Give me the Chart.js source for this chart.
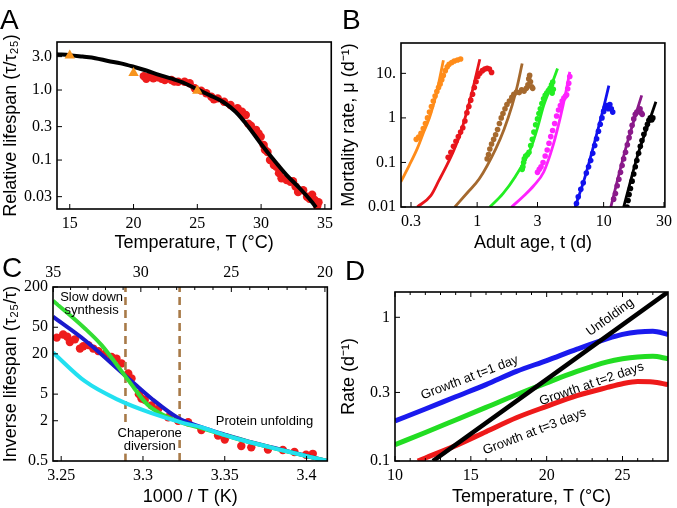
<!DOCTYPE html>
<html>
<head>
<meta charset="utf-8">
<script src="https://cdn.jsdelivr.net/npm/chart.js@4.4.1/dist/chart.umd.min.js"></script>
<style>
  body { margin: 0; background: #fff; width: 677px; height: 508px; position: relative; overflow: hidden; }
  .panel { position: absolute; }
  .tag { position: absolute; font: 28px/28px "Liberation Sans", Arial, sans-serif; color: #000; }
</style>
</head>
<body>
<div class="panel" style="left:0;top:0"><canvas id="chartA" width="338" height="254"></canvas></div>
<div class="panel" style="left:338px;top:0"><canvas id="chartB" width="339" height="254"></canvas></div>
<div class="panel" style="left:0;top:254px"><canvas id="chartC" width="338" height="254"></canvas></div>
<div class="panel" style="left:338px;top:254px"><canvas id="chartD" width="339" height="254"></canvas></div>
<div class="tag" style="left:0;top:6px">A</div>
<div class="tag" style="left:342px;top:6px">B</div>
<div class="tag" style="left:2px;top:254px">C</div>
<div class="tag" style="left:345px;top:257px">D</div>
<script>
// ---- Panel A: relative lifespan vs temperature
const aFitT = [14, 15, 16, 17, 18, 19, 20, 21, 22, 23, 24, 25, 26, 27, 28, 29, 30, 31, 32, 33, 34, 34.3];
const aFitV = [3.25, 3.15, 3.0, 2.85, 2.6, 2.4, 2.15, 1.9, 1.65, 1.45, 1.25, 1.02, 0.84, 0.68, 0.49, 0.3, 0.17, 0.1, 0.061, 0.04, 0.025, 0.021];
const aDotT = [20.8, 21.0, 21.2, 21.55, 21.9, 22.2, 22.45, 22.97, 23.2, 23.5, 24.0, 24.4, 24.8, 25.3, 25.7, 26.1, 26.3, 26.6, 27.1, 27.6, 28.15, 28.3, 28.5, 28.8, 29.0, 29.2, 29.6, 29.8, 29.97, 30.2, 30.3, 30.5, 30.7, 31.0, 31.2, 31.4, 31.6, 32.0, 32.3, 32.5, 32.7, 32.9, 33.3, 33.6, 33.8, 34.0, 34.2, 34.4, 34.5];
const aDotV = [1.58, 1.45, 1.55, 1.47, 1.52, 1.45, 1.39, 1.39, 1.32, 1.31, 1.31, 1.25, 1.06, 0.98, 0.9, 0.8, 0.74, 0.76, 0.68, 0.61, 0.55, 0.5, 0.49, 0.44, 0.33, 0.31, 0.27, 0.24, 0.215, 0.164, 0.14, 0.13, 0.1, 0.085, 0.08, 0.065, 0.055, 0.052, 0.049, 0.05, 0.042, 0.035, 0.037, 0.03, 0.028, 0.032, 0.027, 0.022, 0.025];
const aTriT = [15, 20, 25];
const aTriV = [3.1, 1.75, 0.98];
const aXTicks = [15, 20, 25, 30, 35];
const aYTicks = [0.03, 0.1, 0.3, 1, 3];
const aYLabels = ['0.03', '0.1', '0.3', '1.0', '3.0'];

// ---- Panel B: mortality rate vs adult age (fit curves and data)
const bFitOrange = [[0.249, 0.0365], [0.29, 0.085], [0.336, 0.204], [0.38, 0.5], [0.426, 1.14], [0.48, 3.9], [0.541, 19.7]];
const bDotOrange = [[0.33, 0.33], [0.345, 0.37], [0.36, 0.45], [0.375, 0.58], [0.39, 0.75], [0.405, 1.0], [0.42, 1.35], [0.435, 1.8], [0.45, 2.4], [0.465, 3.1], [0.48, 3.9], [0.495, 4.8], [0.51, 5.8], [0.525, 7.2], [0.54, 9], [0.56, 11.5], [0.58, 14], [0.6, 16], [0.63, 17.5], [0.66, 19], [0.7, 20], [0.74, 21]];
const bFitRed = [[0.336, 0.01], [0.43, 0.018], [0.5, 0.04], [0.575, 0.086], [0.65, 0.18], [0.73, 0.41], [0.83, 1.4], [0.926, 4.56], [1.05, 20.7]];
const bDotRed = [[0.59, 0.13], [0.62, 0.17], [0.65, 0.23], [0.68, 0.3], [0.71, 0.38], [0.74, 0.48], [0.77, 0.6], [0.8, 0.85], [0.83, 1.3], [0.86, 1.8], [0.89, 2.5], [0.92, 3.4], [0.95, 4.8], [0.98, 6.5], [1.01, 8.5], [1.05, 10], [1.1, 11.5], [1.15, 12.5], [1.2, 13], [1.25, 12.5], [1.3, 10.5]];
const bFitBrown = [[0.666, 0.01], [0.85, 0.022], [1.04, 0.043], [1.4, 0.2], [1.63, 0.55], [1.89, 1.92], [2.07, 5], [2.27, 16.6]];
const bDotBrown = [[1.2, 0.12], [1.23, 0.15], [1.26, 0.2], [1.3, 0.26], [1.35, 0.33], [1.4, 0.42], [1.45, 0.55], [1.5, 0.75], [1.55, 1.0], [1.6, 1.25], [1.66, 1.6], [1.72, 2.0], [1.8, 2.4], [1.88, 2.9], [1.95, 3.4], [2.05, 3.8], [2.15, 3.7], [2.25, 4.3], [2.35, 4.0], [2.45, 4.6], [2.52, 5.5], [2.56, 7.5], [2.6, 9], [2.64, 6.5], [2.7, 5], [2.75, 4.6]];
const bFitGreen = [[1.26, 0.01], [1.6, 0.02], [2.0, 0.048], [2.64, 0.2], [3.0, 0.6], [3.36, 1.92], [3.8, 4.8], [4.32, 12.8]];
const bDotGreen = [[2.27, 0.07], [2.3, 0.08], [2.33, 0.1], [2.36, 0.12], [2.42, 0.14], [2.5, 0.15], [2.57, 0.17], [2.65, 0.24], [2.73, 0.33], [2.81, 0.48], [2.9, 0.7], [3.0, 0.95], [3.08, 1.25], [3.16, 1.6], [3.25, 2.1], [3.35, 2.7], [3.45, 3.2], [3.55, 3.6], [3.66, 4.1], [3.77, 4.6], [3.87, 5.5], [3.96, 6.4], [3.92, 3.6], [4.0, 4.4]];
const bFitMagenta = [[1.87, 0.01], [2.3, 0.017], [2.8, 0.03], [3.36, 0.061], [4.0, 0.25], [4.52, 0.96], [5.0, 3.5], [5.4, 10.8]];
const bDotMagenta = [[3.0, 0.06], [3.1, 0.07], [3.2, 0.08], [3.32, 0.1], [3.45, 0.14], [3.58, 0.19], [3.7, 0.27], [3.82, 0.38], [3.95, 0.52], [4.1, 0.75], [4.25, 1.1], [4.4, 1.5], [4.55, 1.9], [4.7, 2.4], [4.85, 2.8], [5.0, 3.1], [5.1, 3.3], [5.2, 4.5], [5.3, 6], [5.4, 8.5]];
const bFitBlue = [[5.95, 0.01], [7.0, 0.04], [8.2, 0.2], [9.8, 1.36], [11.0, 5.3]];
const bDotBlue = [[6.1, 0.012], [6.3, 0.017], [6.6, 0.025], [6.9, 0.035], [7.3, 0.058], [7.6, 0.08], [7.9, 0.11], [8.2, 0.16], [8.5, 0.24], [8.8, 0.34], [9.1, 0.5], [9.4, 0.72], [9.7, 1.0], [10.0, 1.4], [10.3, 1.7], [10.6, 1.9], [10.9, 1.6], [11.2, 2.0], [11.5, 1.6], [11.8, 1.35]];
const bFitPurple = [[11.4, 0.01], [13, 0.045], [14.9, 0.2], [17.5, 0.95], [20, 3.2]];
const bDotPurple = [[12.0, 0.015], [12.4, 0.02], [12.8, 0.03], [13.2, 0.042], [13.6, 0.06], [14.0, 0.085], [14.4, 0.12], [14.9, 0.17], [15.4, 0.25], [15.9, 0.36], [16.3, 0.48], [16.8, 0.68], [17.3, 0.95], [17.8, 1.2], [18.3, 1.35], [18.9, 1.4], [19.4, 1.6], [19.8, 1.3], [20.2, 1.2]];
const bFitBlack = [[14.4, 0.01], [18.9, 0.17], [22.5, 0.72], [25.9, 2.3]];
const bDotBlack = [[15.3, 0.01], [15.6, 0.014], [15.9, 0.019], [16.3, 0.026], [16.8, 0.038], [17.3, 0.055], [17.8, 0.08], [18.3, 0.11], [18.9, 0.16], [19.5, 0.23], [20.1, 0.31], [20.8, 0.43], [21.5, 0.57], [22.2, 0.72], [22.8, 0.88], [23.4, 1.0], [24.0, 0.9], [24.5, 1.0]];
const bXTicks = [0.3, 1, 3, 10, 30];
const bXLabels = ['0.3', '1', '3', '10', '30'];
const bYTicks = [0.01, 0.1, 1, 10];
const bYLabels = ['0.01', '0.1', '1', '10.'];

// ---- Panel C: inverse lifespan vs 1000/T
const cDots = [[3.2473, 35], [3.2512, 39], [3.2537, 36], [3.2553, 30], [3.2584, 33], [3.2615, 24], [3.2635, 26], [3.2666, 27], [3.2696, 24], [3.2727, 22], [3.2767, 20], [3.2808, 18], [3.2838, 17], [3.2869, 14.4], [3.291, 10.2], [3.293, 8.6], [3.2975, 5], [3.2991, 4.3], [3.3011, 4.1], [3.3052, 3.4], [3.3093, 3.0], [3.3154, 2.25], [3.3215, 2.0], [3.3276, 1.9], [3.3357, 1.45], [3.3459, 1.2], [3.35, 1.05], [3.3601, 0.84], [3.3662, 0.8], [3.3764, 0.74], [3.3855, 0.73], [3.3926, 0.68], [3.3997, 0.62], [3.4038, 0.64]];
const cGreen = [[3.245, 125], [3.2645, 48], [3.2747, 27], [3.291, 8.1], [3.3032, 3.4], [3.3215, 1.95], [3.3357, 1.55], [3.35, 1.22], [3.3642, 0.97], [3.3845, 0.73], [3.4127, 0.5]];
const cBlue = [[3.245, 72], [3.2645, 32], [3.2889, 9.6], [3.3052, 4.3], [3.3215, 2.2], [3.3357, 1.6], [3.35, 1.24], [3.3642, 0.98], [3.3845, 0.74], [3.4127, 0.5]];
const cCyan = [[3.245, 21], [3.2645, 7.8], [3.2849, 4.1], [3.3052, 2.6], [3.3255, 1.83], [3.3357, 1.6], [3.35, 1.22], [3.3642, 0.97], [3.3845, 0.73], [3.4127, 0.5]];
const cDashX = [3.2893, 3.3224];
const cYLimits = [0.5, 200];
const cXTicks = [3.25, 3.3, 3.35, 3.4];
const cXLabels = ['3.25', '3.3', '3.35', '3.4'];
const cYTicks = [0.5, 2, 5, 20, 50, 200];
const cYLabels = ['0.5', '2', '5', '20', '50', '200'];
const cTopT = [35, 30, 25, 20];
const cTopMinorT = [21, 22, 23, 24, 26, 27, 28, 29, 31, 32, 33, 34];

// ---- Panel D: rates vs temperature
const dT = [10, 12, 14, 16, 18, 20, 22, 24, 25, 26, 27, 28];
const dBlue = [0.19, 0.23, 0.28, 0.34, 0.42, 0.5, 0.6, 0.71, 0.76, 0.79, 0.8, 0.76];
const dGreen = [0.13, 0.158, 0.193, 0.236, 0.289, 0.35, 0.42, 0.49, 0.515, 0.53, 0.535, 0.515];
const dRedT = [11.5, 12, 14, 16, 18, 20, 22, 24, 25, 26, 27, 28];
const dRed = [0.1, 0.105, 0.128, 0.16, 0.2, 0.24, 0.285, 0.325, 0.345, 0.357, 0.355, 0.34];
const dUnfoldT = [12.5, 18.6, 28];
const dUnfold = [0.1, 0.29, 1.5];
const dXTicks = [10, 15, 20, 25];
const dMinorT = [11, 12, 13, 14, 16, 17, 18, 19, 21, 22, 23, 24, 26, 27];
const dYTicks = [0.1, 0.3, 1];
const dYLabels = ['0.1', '0.3', '1'];

const SERIF = '"Liberation Serif", "DejaVu Serif", serif';
const SANS = '"Liberation Sans", Arial, sans-serif';
Chart.defaults.color = '#000';
Chart.defaults.font.family = SERIF;

const zip = (xs, ys) => xs.map((x, i) => ({ x, y: ys[i] }));
const pairs = arr => arr.map(([x, y]) => ({ x, y }));
const toInv = t => 1000 / (t + 273.15);

function axis(type, min, max, values, labels, title, size, extra = {}) {
    return Object.assign({
        type, min, max,
        afterBuildTicks: s => { s.ticks = values.map(v => ({ value: v })); },
        afterFit: s => { if (s.isHorizontal()) s.height = size; else s.width = size; },
        grid: { display: false, drawTicks: false },
        border: { display: false },
        ticks: {
            autoSkip: false, maxRotation: 0, padding: 5,
            font: { family: SERIF, size: 16 },
            callback: (v, i) => labels[i]
        },
        title: title
            ? { display: true, text: title, font: { family: SANS, size: 18 }, padding: 0 }
            : { display: false }
    }, extra);
}

// frame box + inward tick marks
function frame(cfg = {}) {
    return {
        id: 'frame',
        afterDatasetsDraw(chart) {
            const { ctx, chartArea: a, scales } = chart;
            const seg = (x1, y1, x2, y2) => { ctx.beginPath(); ctx.moveTo(x1, y1); ctx.lineTo(x2, y2); ctx.stroke(); };
            ctx.save();
            ctx.strokeStyle = '#000';
            ctx.lineWidth = 1;
            const xs = scales.x, ys = scales.y;
            xs.ticks.forEach(t => {
                const p = xs.getPixelForValue(t.value);
                seg(p, a.bottom, p, a.bottom - 5);
                if (cfg.mirrorX) seg(p, a.top, p, a.top + 5);
            });
            (cfg.minorX || []).forEach(v => {
                const p = xs.getPixelForValue(v);
                seg(p, a.bottom, p, a.bottom - 3);
                if (cfg.mirrorX) seg(p, a.top, p, a.top + 3);
            });
            ys.ticks.forEach(t => {
                const p = ys.getPixelForValue(t.value);
                seg(a.left, p, a.left + 5, p);
            });
            if (scales.x2) {
                scales.x2.ticks.forEach(t => {
                    const p = scales.x2.getPixelForValue(t.value);
                    seg(p, a.top, p, a.top + 5);
                });
                (cfg.minorTop || []).forEach(v => {
                    const p = scales.x2.getPixelForValue(v);
                    seg(p, a.top, p, a.top + 3);
                });
            }
            ctx.lineWidth = 1.6;
            ctx.strokeRect(a.left, a.top, a.right - a.left, a.bottom - a.top);
            ctx.restore();
        }
    };
}

// text labels inside the plot, placed in data coordinates
function notes(items) {
    return {
        id: 'notes',
        afterDatasetsDraw(chart) {
            const { ctx, scales: { x, y } } = chart;
            ctx.save();
            ctx.font = '13px ' + SANS;
            ctx.textAlign = 'center';
            ctx.textBaseline = 'middle';
            items.forEach(n => {
                ctx.save();
                ctx.translate(x.getPixelForValue(n.x), y.getPixelForValue(n.y));
                ctx.rotate((n.rot || 0) * Math.PI / 180);
                if (n.bg) {
                    const w = ctx.measureText(n.text).width;
                    ctx.fillStyle = '#fff';
                    ctx.fillRect(-w / 2 - 1, -7, w + 2, 14);
                }
                ctx.fillStyle = '#000';
                ctx.fillText(n.text, 0, 0);
                ctx.restore();
            });
            ctx.restore();
        }
    };
}

const line = (data, color, width, order, extra = {}) => Object.assign({
    data, showLine: true, borderColor: color, backgroundColor: color, borderWidth: width,
    pointRadius: 0, cubicInterpolationMode: 'monotone', fill: false, order
}, extra);
const dots = (data, color, radius, order, extra = {}) => Object.assign({
    data, showLine: false, backgroundColor: color, borderColor: color, borderWidth: 0,
    pointRadius: radius, pointHoverRadius: radius, order
}, extra);

const common = padding => ({
    responsive: false, animation: false, devicePixelRatio: 1,
    layout: { padding, autoPadding: false },
    plugins: { legend: { display: false }, tooltip: { enabled: false } }
});

// PANEL A
new Chart(document.getElementById('chartA'), {
    type: 'scatter',
    data: {
        datasets: [
            dots(zip(aTriT, aTriV), '#f7941d', 6, 0, { pointStyle: 'triangle' }),
            line(zip(aFitT, aFitV), '#000', 4, 1),
            dots(zip(aDotT, aDotV), '#ee1c1c', 4.2, 2)
        ]
    },
    options: Object.assign(common({ top: 42, right: 5, left: 0, bottom: 0 }), {
        scales: {
            x: axis('linear', 14, 35.5, aXTicks, aXTicks.map(String), 'Temperature, T (°C)', 45),
            y: axis('logarithmic', 0.02, 4.85, aYTicks, aYLabels, 'Relative lifespan (τ/τ₂₅)', 57)
        }
    }),
    plugins: [frame()]
});

// PANEL B
const bSeries = [
    { fit: bFitOrange, pts: bDotOrange, color: '#ff8c1a' },
    { fit: bFitRed, pts: bDotRed, color: '#e8151b' },
    { fit: bFitBrown, pts: bDotBrown, color: '#a5692e' },
    { fit: bFitGreen, pts: bDotGreen, color: '#22ee22' },
    { fit: bFitMagenta, pts: bDotMagenta, color: '#ff22ff' },
    { fit: bFitBlue, pts: bDotBlue, color: '#1111ee' },
    { fit: bFitPurple, pts: bDotPurple, color: '#8a1a8a' },
    { fit: bFitBlack, pts: bDotBlack, color: '#000000' }
];
new Chart(document.getElementById('chartB'), {
    type: 'scatter',
    data: {
        datasets: bSeries.flatMap(s => [
            line(pairs(s.fit), s.color, 2.8, 1),
            dots(pairs(s.pts), s.color, 2.8, 0)
        ])
    },
    options: Object.assign(common({ top: 43, right: 7, left: 0, bottom: 0 }), {
        scales: {
            x: axis('logarithmic', 0.25, 30.5, bXTicks, bXLabels, 'Adult age, t (d)', 47),
            y: axis('logarithmic', 0.01, 48, bYTicks, bYLabels, 'Mortality rate, μ (d⁻¹)', 63)
        }
    }),
    plugins: [frame()]
});

// PANEL C
new Chart(document.getElementById('chartC'), {
    type: 'scatter',
    data: {
        datasets: [
            line(pairs(cGreen), '#33dd33', 4, 1),
            line(pairs(cBlue), '#1a1acc', 4, 2),
            line(pairs(cCyan), '#22e0f0', 4, 0),
            dots(pairs(cDots), '#ee1c1c', 4.2, 4),
            ...cDashX.map(x => line([{ x, y: cYLimits[0] }, { x, y: cYLimits[1] }], '#a87a48', 2.6, 3, { borderDash: [8, 5], cubicInterpolationMode: 'default' }))
        ]
    },
    options: Object.assign(common({ top: 0, right: 10, left: 0, bottom: 0 }), {
        scales: {
            x: axis('linear', 3.245, 3.4127, cXTicks, cXLabels, '1000 / T (K)', 47),
            x2: axis('linear', 3.245, 3.4127, cTopT.map(toInv), cTopT.map(String), null, 33, { position: 'top' }),
            y: axis('logarithmic', cYLimits[0], cYLimits[1], cYTicks, cYLabels, 'Inverse lifespan (τ₂₅/τ)', 53)
        }
    }),
    plugins: [notes([
        { text: 'Slow down', x: 3.2686, y: 142, bg: true },
        { text: 'synthesis', x: 3.2686, y: 90 },
        { text: 'Chaperone', x: 3.3041, y: 1.31, bg: true },
        { text: 'diversion', x: 3.3041, y: 0.82, bg: true },
        { text: 'Protein unfolding', x: 3.3743, y: 1.94 }
    ]), frame({ minorTop: cTopMinorT.map(toInv) })]
});

// PANEL D
new Chart(document.getElementById('chartD'), {
    type: 'scatter',
    data: {
        datasets: [
            line(zip(dUnfoldT, dUnfold), '#000', 4.5, 0, { cubicInterpolationMode: 'default' }),
            line(zip(dT, dBlue), '#1a1aee', 5, 1),
            line(zip(dT, dGreen), '#22dd22', 5, 2),
            line(zip(dRedT, dRed), '#ee1a1a', 5, 3)
        ]
    },
    options: Object.assign(common({ top: 38, right: 9, left: 0, bottom: 0 }), {
        scales: {
            x: axis('linear', 10, 28, dXTicks, dXTicks.map(String), 'Temperature, T (°C)', 47),
            y: axis('logarithmic', 0.1, 1.5, dYTicks, dYLabels, 'Rate (d⁻¹)', 57)
        }
    }),
    plugins: [notes([
        { text: 'Growth at t=1 day', x: 14.92, y: 0.38, rot: -21 },
        { text: 'Growth at t=2 days', x: 22.97, y: 0.343, rot: -19 },
        { text: 'Growth at t=3 days', x: 19.2, y: 0.16, rot: -21 },
        { text: 'Unfolding', x: 24.19, y: 1.0, rot: -36 }
    ]), frame({ minorX: dMinorT, mirrorX: true })]
});
</script>
</body>
</html>
